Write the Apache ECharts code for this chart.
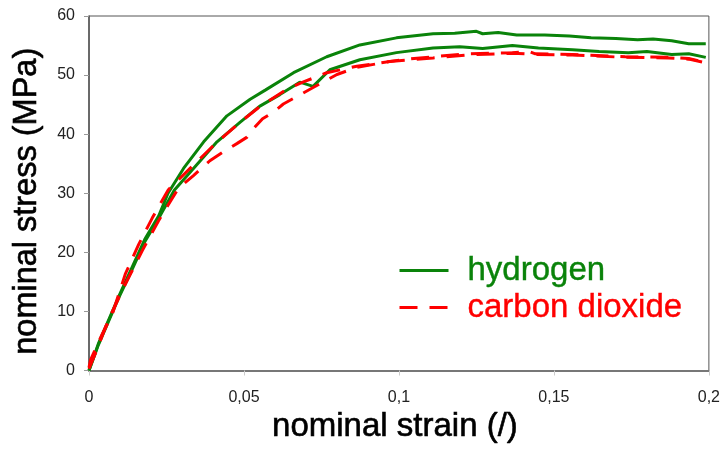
<!DOCTYPE html>
<html><head><meta charset="utf-8">
<script src="https://cdn.jsdelivr.net/npm/echarts@6/dist/echarts.min.js"></script>
<style>html,body{margin:0;padding:0;background:#fff}#c{width:723px;height:449px}</style>
</head><body><div id="c"></div>
<script>
// hydrogen specimen 1 (upper green)
const h1Strain = [0, 0.003, 0.0095, 0.014, 0.018, 0.0225, 0.0255, 0.0305, 0.037, 0.0445, 0.052, 0.057, 0.066, 0.0767, 0.0874, 0.0992, 0.111, 0.118, 0.125, 0.127, 0.132, 0.138, 0.147, 0.155, 0.162, 0.170, 0.177, 0.182, 0.188, 0.1935, 0.199];
const h1Stress = [0, 4.5, 12.4, 17.6, 22.2, 26.2, 30.0, 34.2, 38.7, 43.1, 45.9, 47.5, 50.4, 53.1, 55.1, 56.3, 57.0, 57.1, 57.4, 57.0, 57.2, 56.8, 56.8, 56.6, 56.3, 56.2, 56.0, 56.1, 55.8, 55.3, 55.3];
// hydrogen specimen 2 (lower green)
const h2Strain = [0, 0.003, 0.0095, 0.014, 0.018, 0.0223, 0.0275, 0.0337, 0.0413, 0.0487, 0.055, 0.0616, 0.068, 0.0723, 0.0777, 0.0874, 0.0992, 0.111, 0.1196, 0.127, 0.1366, 0.145, 0.156, 0.1646, 0.174, 0.18, 0.188, 0.1935, 0.199];
const h2Stress = [0, 4.3, 12.2, 17.2, 21.8, 25.6, 30.5, 34.2, 38.7, 42.0, 44.7, 46.7, 48.8, 48.1, 50.9, 52.6, 53.8, 54.6, 54.8, 54.5, 55.0, 54.6, 54.3, 54.0, 53.8, 54.0, 53.5, 53.6, 53.0];
// carbon dioxide specimen 1 (upper red)
const c1Strain = [0, 0.0005, 0.0043, 0.0075, 0.0117, 0.016, 0.0204, 0.0256, 0.0326, 0.040, 0.0487, 0.0552, 0.0638, 0.069, 0.0767, 0.0864, 0.0906, 0.101, 0.111, 0.1218, 0.1366, 0.142, 0.144, 0.156, 0.173, 0.187, 0.1935, 0.1978];
const c1Stress = [0.5, 1.8, 6.2, 9.5, 16.3, 21.3, 25.8, 30.6, 34.2, 38.0, 42.0, 44.7, 47.6, 48.8, 50.4, 51.5, 51.8, 52.6, 53.1, 53.6, 53.8, 54.0, 53.6, 53.5, 53.1, 53.0, 52.8, 52.3];
// carbon dioxide specimen 2 (lower red)
const c2Strain = [0, 0.002, 0.0062, 0.0117, 0.0172, 0.0224, 0.0288, 0.0337, 0.039, 0.0433, 0.0477, 0.051, 0.053, 0.056, 0.0594, 0.0627, 0.0713, 0.08, 0.0864, 0.097, 0.111, 0.1218, 0.1366, 0.144, 0.156, 0.173, 0.187, 0.1935, 0.1978];
const c2Stress = [0.3, 2.8, 8.5, 14.6, 20.3, 25.3, 30.8, 33.0, 35.5, 37.0, 38.4, 39.5, 40.9, 42.6, 43.7, 45.1, 47.6, 50.1, 51.3, 52.3, 52.9, 53.4, 53.7, 53.5, 53.4, 53.0, 52.9, 52.7, 52.2];

const xTickLabels = ['0', '0,05', '0,1', '0,15', '0,2'];
const yTickLabels = ['0', '10', '20', '30', '40', '50', '60'];
const legendNames = ['hydrogen', 'carbon dioxide'];

const zip = (xs, ys) => xs.map((x, i) => [x, ys[i]]);
const GREEN = '#0a830a', RED = '#ff0000';
const FONT = '"Liberation Sans", Arial, sans-serif';

const chart = echarts.init(document.getElementById('c'), null, {renderer: 'canvas'});
const greenLine = {color: GREEN, width: 3};
const redLine = {color: RED, width: 3, type: [18, 12]};
const titleStyle = {fontSize: 33, color: '#000', fontFamily: FONT, textBorderColor: '#000', textBorderWidth: 0.6};
chart.setOption({
  backgroundColor: '#ffffff',
  animation: false,
  textStyle: {fontFamily: FONT},
  grid: {left: 89, right: 13, top: 16, bottom: 75, show: true, borderColor: '#555', borderWidth: 1},
  legend: {
    orient: 'vertical', left: 398, top: 252, padding: 0, itemGap: 0,
    itemWidth: 49, itemHeight: 14,
    itemStyle: {opacity: 0},
    lineStyle: {width: 3},
    textStyle: {fontSize: 33, fontFamily: FONT, lineHeight: 37, padding: [0, 0, 0, 14]},
    data: [
      {name: legendNames[0], textStyle: {color: GREEN, textBorderColor: GREEN, textBorderWidth: 0.4}},
      {name: legendNames[1], textStyle: {color: RED, textBorderColor: RED, textBorderWidth: 0.4}}
    ]
  },
  xAxis: {
    type: 'value', min: 0, max: 0.2, interval: 0.05,
    name: 'nominal strain (/)', nameLocation: 'middle', nameGap: 40,
    nameTextStyle: Object.assign({}, titleStyle, {padding: [0, 8, 0, 0]}),
    axisLine: {lineStyle: {color: '#777', width: 2}},
    axisTick: {show: true, length: 5, lineStyle: {color: '#ccc'}},
    axisLabel: {fontSize: 16, color: '#222', margin: 19, formatter: v => xTickLabels[Math.round(v / 0.05)]},
    splitLine: {show: false}
  },
  yAxis: {
    type: 'value', min: 0, max: 60, interval: 10,
    name: 'nominal stress (MPa)', nameLocation: 'middle', nameGap: 45,
    nameTextStyle: Object.assign({}, titleStyle, {fontSize: 32.5, padding: [0, 16, 0, 0]}),
    axisLine: {show: true, lineStyle: {color: '#555', width: 1.5}},
    axisTick: {show: true, length: 5, lineStyle: {color: '#999'}},
    axisLabel: {fontSize: 16, color: '#222', margin: 14, formatter: v => yTickLabels[Math.round(v / 10)]},
    splitLine: {show: false}
  },
  series: [
    {name: legendNames[0], type: 'line', symbol: 'none', data: zip(h1Strain, h1Stress), lineStyle: greenLine, itemStyle: {color: GREEN}},
    {name: legendNames[0], type: 'line', symbol: 'none', data: zip(h2Strain, h2Stress), lineStyle: greenLine, itemStyle: {color: GREEN}},
    {name: legendNames[1], type: 'line', symbol: 'none', data: zip(c1Strain, c1Stress), lineStyle: redLine, itemStyle: {color: RED}},
    {name: legendNames[1], type: 'line', symbol: 'none', data: zip(c2Strain, c2Stress), lineStyle: redLine, itemStyle: {color: RED}}
  ]
});
</script>
</body></html>
